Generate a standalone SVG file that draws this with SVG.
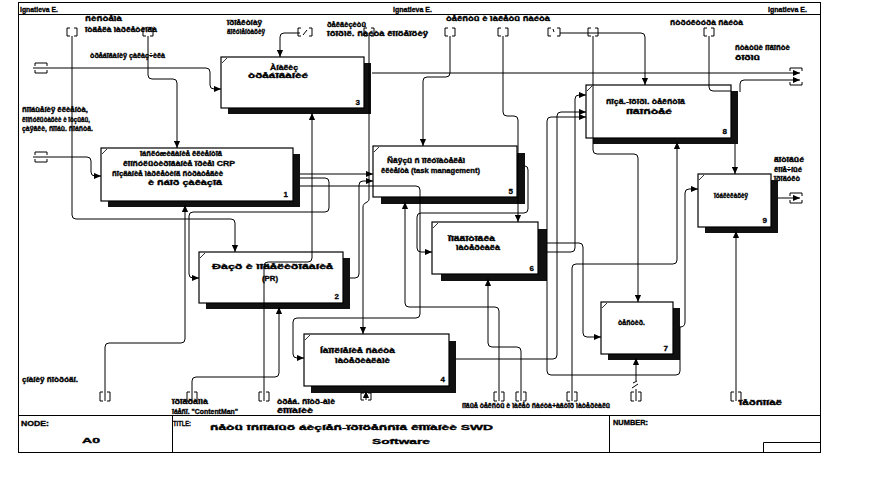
<svg xmlns="http://www.w3.org/2000/svg" width="872" height="481" viewBox="0 0 872 481">
<defs>
<style>
.ln{fill:none;stroke:#000;stroke-width:1}
.ar{marker-end:url(#ah)}
.box{fill:#fff;stroke:#000;stroke-width:1.2}
.sh{fill:#111}
.cm{stroke:#000;stroke-width:0.8}
.t{font-family:"Liberation Sans",Arial,sans-serif;font-weight:bold;font-size:8px;fill:#000;stroke:#000;stroke-width:0.35}
.n{font-family:"Liberation Sans",Arial,sans-serif;font-weight:bold;font-size:8px;fill:#000;text-anchor:end;stroke:#000;stroke-width:0.3}
.fr{fill:none;stroke:#000;stroke-width:1}
</style>
<marker id="ah" viewBox="0 0 8 8" refX="8" refY="4" markerWidth="7" markerHeight="7" orient="auto" markerUnits="userSpaceOnUse"><path d="M0,0.5 L8,4 L0,7.5 z" fill="#000"/></marker>
</defs>
<rect width="872" height="481" fill="#fff"/>

<g id="frame">
<rect class="fr" x="18.5" y="2.5" width="802" height="450"/>
<path class="fr" d="M18.5,14.5 H820.5 M18.5,415.5 H820.5 M172.5,415.5 V452.5 M609.5,415.5 V452.5 M763.5,442.5 H820.5 M763.5,442.5 V452.5"/>
<text class="t" x="20" y="12" textLength="38" lengthAdjust="spacingAndGlyphs">Ignatieva E.</text>
<text class="t" x="393" y="12" textLength="39" lengthAdjust="spacingAndGlyphs">Ignatieva E.</text>
<text class="t" x="768" y="12" textLength="39" lengthAdjust="spacingAndGlyphs">Ignatieva E.</text>
<text class="t" x="21" y="426" font-size="7" textLength="28" lengthAdjust="spacingAndGlyphs">NODE:</text>
<text class="t" x="82" y="443" font-size="12" textLength="18" lengthAdjust="spacingAndGlyphs">A0</text>
<text class="t" x="173" y="426" font-size="7" textLength="18" lengthAdjust="spacingAndGlyphs">TITLE:</text>
<text class="t" x="210" y="430" font-size="13" textLength="283" lengthAdjust="spacingAndGlyphs">ñåòü îñíîâíûõ áèçíåñ-ïðîöåññîâ êîìïàíèè SWD</text>
<text class="t" x="372" y="444" font-size="12" textLength="58" lengthAdjust="spacingAndGlyphs">Software</text>
<text class="t" x="613" y="425" font-size="7" textLength="35" lengthAdjust="spacingAndGlyphs">NUMBER:</text>
</g>

<g id="labels">
<text class="t" x="85" y="21" textLength="37" lengthAdjust="spacingAndGlyphs">ñèñòåìà</text>
<text class="t" x="85" y="32" textLength="72" lengthAdjust="spacingAndGlyphs">îòäåëà ìàðêåòèíãà</text>
<text class="t" x="227" y="25" textLength="35" lengthAdjust="spacingAndGlyphs">ïðîåêòíàÿ</text>
<text class="t" x="227" y="34" textLength="38" lengthAdjust="spacingAndGlyphs">äîêóìåíòàöèÿ</text>
<text class="t" x="327" y="27" textLength="39" lengthAdjust="spacingAndGlyphs">ðåêâèçèòû</text>
<text class="t" x="327" y="36" textLength="101" lengthAdjust="spacingAndGlyphs">îôîðìë. ñàéòà êîíöåïöèÿ</text>
<text class="t" x="446" y="21" textLength="104" lengthAdjust="spacingAndGlyphs">òåêñòû è ìàêåòû ñàéòà</text>
<text class="t" x="670" y="25" textLength="73" lengthAdjust="spacingAndGlyphs">ñòðóêòóðà ñàéòà</text>
<text class="t" x="735" y="50" textLength="55" lengthAdjust="spacingAndGlyphs">ñòàòüè íîâîñòè</text>
<text class="t" x="735" y="60" textLength="25" lengthAdjust="spacingAndGlyphs">ôîðìû</text>
<text class="t" x="90" y="58" textLength="75" lengthAdjust="spacingAndGlyphs">òðåáîâàíèÿ çàêàç÷èêà</text>
<text class="t" x="22" y="112" textLength="66" lengthAdjust="spacingAndGlyphs">ñîîáùåíèÿ êëèåíòà,</text>
<text class="t" x="22" y="122" textLength="68" lengthAdjust="spacingAndGlyphs">êîíñóëüòàöèè è îòçûâû,</text>
<text class="t" x="22" y="131" textLength="71" lengthAdjust="spacingAndGlyphs">çàÿâêè, ñîîáù. ñîáñòâ.</text>
<text class="t" x="22" y="382" textLength="56" lengthAdjust="spacingAndGlyphs">çíàíèÿ ñîòðóäí.</text>
<text class="t" x="172" y="404" textLength="36" lengthAdjust="spacingAndGlyphs">ïðîãðàììà</text>
<text class="t" x="172" y="414" textLength="66" lengthAdjust="spacingAndGlyphs">îáåñï. "ContentMan"</text>
<text class="t" x="277" y="404" textLength="58" lengthAdjust="spacingAndGlyphs">òðåá. ñîòð-àìè</text>
<text class="t" x="277" y="413" textLength="36" lengthAdjust="spacingAndGlyphs">êîìïàíèè</text>
<text class="t" x="462" y="408" textLength="148" lengthAdjust="spacingAndGlyphs">íîâûå òåêñòû è ìàêåò ñàéòà+àâòîð ìàòåðèàëû</text>
<text class="t" x="739" y="405" textLength="43" lengthAdjust="spacingAndGlyphs">ïåðñîíàë</text>
<text class="t" x="774" y="162" textLength="30" lengthAdjust="spacingAndGlyphs">ãîòîâûé</text>
<text class="t" x="774" y="172" textLength="28" lengthAdjust="spacingAndGlyphs">êîíå÷íûé</text>
<text class="t" x="774" y="181" textLength="26" lengthAdjust="spacingAndGlyphs">ïðîäóêò</text>
</g>

<g id="node-1">
<rect class="sh" x="108" y="154" width="192" height="53"/>
<rect class="box" x="101" y="148" width="192" height="53"/>
<line class="cm" x1="102" y1="154" x2="107" y2="149"/>
<text class="t" x="140" y="156" textLength="82" lengthAdjust="spacingAndGlyphs">îáñëóæèâàíèå êëèåíòîâ</text>
<text class="t" x="123" y="166" textLength="112" lengthAdjust="spacingAndGlyphs">êîíñóëüòèðîâàíèå ïðèåì CRP</text>
<text class="t" x="112" y="176" textLength="111" lengthAdjust="spacingAndGlyphs">ñîçäàíèå ìàðêåòèíã ñòðàòåãèè</text>
<text class="t" x="148" y="185" textLength="74" lengthAdjust="spacingAndGlyphs">è ñáîð çàêàçîâ</text>
<text class="n" x="288" y="197">1</text>
</g>

<g id="node-2">
<rect class="sh" x="206" y="258" width="144" height="51"/>
<rect class="box" x="199" y="252" width="144" height="51"/>
<line class="cm" x1="200" y1="258" x2="205" y2="253"/>
<text class="t" x="212" y="269" textLength="121" lengthAdjust="spacingAndGlyphs">Ðàçð è ìîäåëèðîâàíèå</text>
<text class="t" x="262" y="281" textLength="16" lengthAdjust="spacingAndGlyphs">(PR)</text>
<text class="n" x="339" y="299">2</text>
</g>

<g id="node-3">
<rect class="sh" x="228" y="63" width="143" height="51"/>
<rect class="box" x="221" y="57" width="143" height="51"/>
<line class="cm" x1="222" y1="63" x2="227" y2="58"/>
<text class="t" x="270" y="70" textLength="28" lengthAdjust="spacingAndGlyphs">Àíàëèç</text>
<text class="t" x="248" y="78" textLength="60" lengthAdjust="spacingAndGlyphs">òðåáîâàíèé</text>
<text class="n" x="360" y="105">3</text>
</g>

<g id="node-4">
<rect class="sh" x="311" y="341" width="145" height="52"/>
<rect class="box" x="304" y="334" width="145" height="52"/>
<line class="cm" x1="305" y1="340" x2="310" y2="335"/>
<text class="t" x="320" y="353" textLength="75" lengthAdjust="spacingAndGlyphs">Íàïîëíåíèå ñàéòà</text>
<text class="t" x="335" y="363" textLength="55" lengthAdjust="spacingAndGlyphs">ìàòåðèàëàìè</text>
<text class="n" x="445" y="382">4</text>
</g>

<g id="node-5">
<rect class="sh" x="381" y="153" width="144" height="51"/>
<rect class="box" x="373" y="146" width="144" height="51"/>
<line class="cm" x1="374" y1="152" x2="379" y2="147"/>
<text class="t" x="387" y="163" textLength="78" lengthAdjust="spacingAndGlyphs">Ñâÿçü ñ ïîêóïàòåëåì</text>
<text class="t" x="381" y="173" textLength="99" lengthAdjust="spacingAndGlyphs">êëèåíòà (task management)</text>
<text class="n" x="513" y="194">5</text>
</g>

<g id="node-6">
<rect class="sh" x="441" y="229" width="106" height="52"/>
<rect class="box" x="432" y="222" width="106" height="52"/>
<line class="cm" x1="433" y1="228" x2="438" y2="223"/>
<text class="t" x="448" y="241" textLength="47" lengthAdjust="spacingAndGlyphs">Ïîäãîòîâêà</text>
<text class="t" x="456" y="250" textLength="44" lengthAdjust="spacingAndGlyphs">ìàòåðèàëà</text>
<text class="n" x="534" y="271">6</text>
</g>

<g id="node-7">
<rect class="sh" x="608" y="308" width="72" height="52"/>
<rect class="box" x="601" y="302" width="72" height="52"/>
<line class="cm" x1="602" y1="308" x2="607" y2="303"/>
<text class="t" x="618" y="325" textLength="27" lengthAdjust="spacingAndGlyphs">òåñòèð.</text>
<text class="n" x="668" y="351">7</text>
</g>

<g id="node-8">
<rect class="sh" x="593" y="91" width="145" height="53"/>
<rect class="box" x="586" y="85" width="145" height="53"/>
<line class="cm" x1="587" y1="91" x2="592" y2="86"/>
<text class="t" x="606" y="104" textLength="79" lengthAdjust="spacingAndGlyphs">ñîçä.-îôîðì. òåêñòîâ</text>
<text class="t" x="626" y="114" textLength="46" lengthAdjust="spacingAndGlyphs">íîâîñòåé</text>
<text class="n" x="727" y="134">8</text>
</g>

<g id="node-9">
<rect class="sh" x="705" y="180" width="73" height="53"/>
<rect class="box" x="698" y="174" width="73" height="53"/>
<line class="cm" x1="699" y1="180" x2="704" y2="175"/>
<text class="t" x="714" y="198" textLength="34" lengthAdjust="spacingAndGlyphs">ïóáëèêàöèÿ</text>
<text class="n" x="767" y="223">9</text>
</g>

<g id="connectors">
<path class="ln ar" d="M33,68 H206 Q210,68 210,72 V85 Q210,89 214,89 H221"/>
<path class="ln ar" d="M372,73 H800"/>
<path class="ln ar" d="M740,92 V84 Q740,80 744,80 H800"/>
<path class="ln ar" d="M300,33 H284 Q280,33 280,37 V57"/>
<path class="ln ar" d="M148,36 V75 Q148,79 152,79 H173 Q177,79 177,83 V148"/>
<path class="ln ar" d="M72,36 V215 Q72,219 76,219 H231 Q235,219 235,223 V252"/>
<path class="ln ar" d="M33,157 H87 Q91,157 91,161 V172 Q91,176 95,176 H101"/>
<path class="ln ar" d="M369,36 V199 C369,203 363,202 363,207 V334"/>
<path class="ln ar" d="M264,401 V266 Q264,262 268,262 H308 Q312,262 312,258 V113"/>
<path class="ln ar" d="M300,174 H373"/>
<path class="ln ar" d="M300,178 H325 Q329,178 329,182 V208 Q329,212 325,212 H193 Q189,212 189,216 V274 Q189,278 193,278 H199"/>
<path class="ln ar" d="M300,186 H416 Q420,186 420,190 V314 Q420,318 416,318 H297 Q293,318 293,322 V354 Q293,358 297,358 H304"/>
<path class="ln ar" d="M105,401 V347 Q105,343 109,343 H181 Q185,343 185,339 V205"/>
<path class="ln ar" d="M192,401 V381 Q192,377 196,377 H275 Q279,377 279,373 V307"/>
<path class="ln ar" d="M350,278 H355 Q359,278 359,274 V185 Q359,181 363,181 H373"/>
<path class="ln ar" d="M450,36 V73 Q450,77 446,77 H427 Q423,77 423,81 V146"/>
<path class="ln ar" d="M503,36 V112 Q503,116 507,116 H514 Q518,116 518,120 V222"/>
<path class="ln ar" d="M525,166 Q528,166 528,170 V209 Q528,213 524,213 H421 Q417,213 417,217 V248 Q417,252 421,252 H432"/>
<path class="ln ar" d="M499,401 V311 Q499,307 495,307 H409 Q405,307 405,303 V202"/>
<path class="ln ar" d="M521,401 V351 Q521,347 517,347 H492 Q488,347 488,343 V279"/>
<path class="ln ar" d="M456,359 H553 Q557,359 557,355 V116 Q557,112 561,112 H586"/>
<path class="ln ar" d="M680,327 V371 Q680,375 676,375 H551 Q547,375 547,371 V121 Q547,117 551,117 H586"/>
<path class="ln ar" d="M547,252 H571 Q575,252 575,248 V99 Q575,95 579,95 H586"/>
<path class="ln ar" d="M547,243 H579 Q583,243 583,247 V333 Q583,337 587,337 H601"/>
<path class="ln ar" d="M572,401 V268 Q572,264 576,264 H673 Q677,264 677,260 V142"/>
<path class="ln ar" d="M593,36 V150 Q593,154 597,154 H634 Q638,154 638,158 V302"/>
<path class="ln ar" d="M560,33 H641 Q645,33 645,37 V85"/>
<path class="ln" d="M709,36 V87 Q709,91 713,91 H731"/>
<path class="ln ar" d="M735,144 V174"/>
<path class="ln ar" d="M736,401 V231"/>
<path class="ln ar" d="M778,198 H800"/>
<path class="ln ar" d="M680,327 Q685,327 685,322 V193 Q685,189 689,189 H698"/>
<path class="ln" d="M636,401 V389 M632,388 L638,384 M633,383 L637,381"/>
<path class="ln ar" d="M636,381 V358"/>
<path class="ln ar" d="M366,400 V391"/>
<g id="tunnels" class="ln">
<path d="M70,28 H67 V36 H70 M74,28 H77 V36 H74"/>
<path d="M146,28 H143 V36 H146 M150,28 H153 V36 H150"/>
<path d="M301,28 H298 V36 H301 M309,28 H312 V36 H309 M303,35 L307,30"/>
<path d="M367,28 H364 V36 H367 M371,28 H374 V36 H371"/>
<path d="M448,28 H445 V36 H448 M452,28 H455 V36 H452"/>
<path d="M501,28 H498 V36 H501 M505,28 H508 V36 H505"/>
<path d="M551,28 H548 V36 H551 M557,28 H560 V36 H557 M553,29 L554,32"/>
<path d="M591,28 H588 V36 H591 M595,28 H598 V36 H595"/>
<path d="M707,28 H704 V36 H707 M711,28 H714 V36 H711"/>
<path d="M103,392 H100 V401 H103 M107,392 H110 V401 H107"/>
<path d="M190,392 H187 V401 H190 M194,392 H197 V401 H194"/>
<path d="M262,392 H259 V401 H262 M266,392 H269 V401 H266"/>
<path d="M364,393 H361 V400 H364 M368,393 H371 V400 H368"/>
<path d="M497,392 H494 V401 H497 M501,392 H504 V401 H501"/>
<path d="M519,392 H516 V401 H519 M523,392 H526 V401 H523"/>
<path d="M570,392 H567 V401 H570 M574,392 H577 V401 H574"/>
<path d="M634,392 H631 V401 H634 M638,392 H641 V401 H638"/>
<path d="M734,392 H731 V401 H734 M738,392 H741 V401 H738"/>
<path d="M35,66 V63 H47 V66 M35,70 V73 H47 V70"/>
<path d="M35,155 V152 H47 V155 M35,159 V162 H47 V159"/>
<path d="M790,71 V68 H802 V71 M790,82 V85 H802 V82"/>
<path d="M790,196 V193 H802 V196 M790,200 V203 H802 V200"/>
</g>
</g>
</svg>
